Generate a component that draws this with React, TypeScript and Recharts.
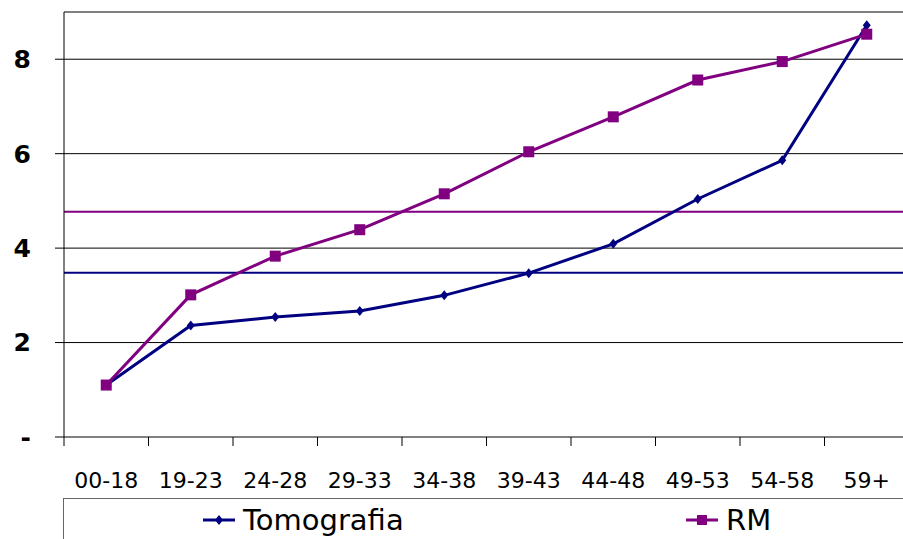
import { LineChart, Line, XAxis, YAxis, CartesianGrid, ReferenceLine } from 'recharts';

const ageGroups = ['00-18', '19-23', '24-28', '29-33', '34-38', '39-43', '44-48', '49-53', '54-58', '59+'];
const tomografia = [1.1, 2.36, 2.54, 2.67, 3.0, 3.47, 4.09, 5.04, 5.86, 8.72];
const rm = [1.1, 3.01, 3.83, 4.39, 5.15, 6.04, 6.78, 7.56, 7.95, 8.53];
const yTicks = [0, 2, 4, 6, 8];
const tomografiaMean = 3.48;
const rmMean = 4.77;

const NAVY = '#000080';
const PURPLE = '#800080';
const FONT = '"DejaVu Sans", sans-serif';

const CHART_W = 920;
const CHART_H = 539;
const Y_AXIS_W = 64;
const MARGIN = { top: 12, right: 11, left: 0, bottom: 52 };
const BAND = (CHART_W - MARGIN.left - MARGIN.right - Y_AXIS_W) / ageGroups.length;

const data = ageGroups.map((g, i) => ({ group: g, tomografia: tomografia[i], rm: rm[i] }));

// excel-style: tick marks sit between categories, labels in the middle
function CategoryTick({ x, y, payload }: any) {
  const edge = x - BAND / 2;
  return (
    <g>
      <line x1={edge} x2={edge} y1={y} y2={y + 9} stroke="#000" strokeWidth={1} />
      <text x={x} y={y + 51} textAnchor="middle" fontSize={22} fontFamily={FONT} fill="#000">
        {payload.value}
      </text>
    </g>
  );
}

function DiamondDot({ cx, cy }: any) {
  if (cx == null || cy == null) return null;
  return <path d={`M${cx},${cy - 5}L${cx + 4},${cy}L${cx},${cy + 5}L${cx - 4},${cy}Z`} fill={NAVY} />;
}

function SquareDot({ cx, cy }: any) {
  if (cx == null || cy == null) return null;
  return <rect x={cx - 5.5} y={cy - 5.5} width={11} height={11} fill={PURPLE} />;
}

function LegendBox() {
  const item = (left: number, color: string, label: string, square: boolean) => (
    <div style={{ position: 'absolute', left, top: 4, display: 'flex', alignItems: 'center' }}>
      <svg width={34} height={14} style={{ marginRight: 6 }}>
        <line x1={0} x2={32} y1={7} y2={7} stroke={color} strokeWidth={3} />
        {square ? (
          <rect x={11} y={2} width={10} height={10} fill={color} />
        ) : (
          <path d="M16,2L20,7L16,12L12,7Z" fill={color} />
        )}
      </svg>
      <span style={{ fontFamily: FONT, fontSize: 29, lineHeight: '34px', color: '#000' }}>{label}</span>
    </div>
  );
  return (
    <div
      style={{
        position: 'absolute',
        left: 63,
        top: 498,
        width: 900,
        height: 60,
        borderTop: '1.5px solid #666',
        borderLeft: '1.5px solid #666',
      }}
    >
      {item(139, NAVY, 'Tomografia', false)}
      {item(622, PURPLE, 'RM', true)}
    </div>
  );
}

export default function App() {
  return (
    <div
      style={{
        position: 'fixed',
        left: 0,
        top: 0,
        width: 903,
        height: 539,
        overflow: 'hidden',
        background: '#fff',
      }}
    >
      <LineChart width={CHART_W} height={CHART_H} data={data} margin={MARGIN}>
        <CartesianGrid horizontal vertical={false} stroke="#000" strokeWidth={1} />
        <XAxis
          dataKey="group"
          padding={{ left: BAND / 2, right: BAND / 2 }}
          axisLine={{ stroke: '#808080', strokeWidth: 1.5 }}
          tickLine={false}
          tickSize={0}
          tickMargin={0}
          height={50}
          interval={0}
          tick={<CategoryTick />}
        />
        <YAxis
          width={Y_AXIS_W}
          domain={[0, 9]}
          ticks={yTicks}
          interval={0}
          tickSize={9}
          tickMargin={24}
          axisLine={{ stroke: '#000' }}
          tickLine={{ stroke: '#000' }}
          tick={{ fontSize: 25, fontWeight: 'bold', fontFamily: FONT, fill: '#000' }}
          tickFormatter={(v: number) => (v === 0 ? '-' : String(v))}
        />
        <ReferenceLine y={rmMean} stroke={PURPLE} strokeWidth={2} />
        <ReferenceLine y={tomografiaMean} stroke={NAVY} strokeWidth={2} />
        <Line
          type="linear"
          dataKey="tomografia"
          name="Tomografia"
          stroke={NAVY}
          strokeWidth={3}
          dot={<DiamondDot />}
          activeDot={false}
          isAnimationActive={false}
        />
        <Line
          type="linear"
          dataKey="rm"
          name="RM"
          stroke={PURPLE}
          strokeWidth={3}
          dot={<SquareDot />}
          activeDot={false}
          isAnimationActive={false}
        />
      </LineChart>
      <LegendBox />
    </div>
  );
}
